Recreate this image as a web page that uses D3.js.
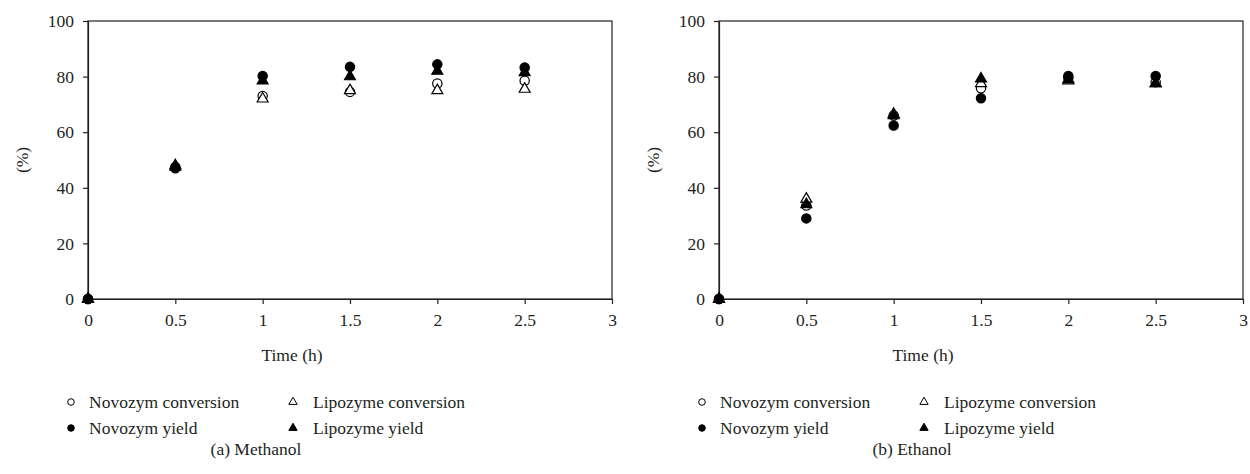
<!DOCTYPE html>
<html>
<head>
<meta charset="utf-8">
<script src="https://cdn.jsdelivr.net/npm/d3@7"></script>
<style>
  body { margin: 0; background: #fff; }
  text { font-family: "Liberation Serif", "DejaVu Serif", serif; fill: #231f20; }
</style>
</head>
<body>
<script>
const width = 1250;
const height = 474;

// time points (h)
const time = [0, 0.5, 1, 1.5, 2, 2.5];

// (a) Methanol
const methNovozymConv  = [0, 47.5, 73, 74.5, 77.5, 78.5];
const methLipozymeConv = [0, 47.5, 72, 75, 75, 75.5];
const methNovozymYield = [0, 47, 80.2, 83.5, 84.4, 83.3];
const methLipozymeYield = [0, 48, 78.5, 80, 82, 81.5];

// (b) Ethanol
const ethNovozymConv  = [0, 33.6, 66, 75.8, 79.5, 78];
const ethLipozymeConv = [0, 36, 66.5, 77.5, 78.5, 77.5];
const ethNovozymYield = [0, 29, 62.4, 72.2, 80.2, 80.2];
const ethLipozymeYield = [0, 34, 66, 79.2, 79, 77.5];

const xTicks = [0, 0.5, 1, 1.5, 2, 2.5, 3];
const yTicks = [0, 20, 40, 60, 80, 100];

const seriesNames = ["Novozym conversion", "Lipozyme conversion", "Novozym yield", "Lipozyme yield"];
const seriesShape = ["circle", "triangle", "circle", "triangle"];
const seriesFilled = [false, false, true, true];

const panels = [
  { x0: 88, capX: 168, caption: "(a)  Methanol", series: [methNovozymConv, methLipozymeConv, methNovozymYield, methLipozymeYield] },
  { x0: 719, capX: 193, caption: "(b)  Ethanol", series: [ethNovozymConv, ethLipozymeConv, ethNovozymYield, ethLipozymeYield] }
];

const svg = d3.select("body").append("svg")
  .attr("width", width)
  .attr("height", height);

const plotW = 524, plotTop = 21, plotBottom = 299;
const fs = "17.5px";

function marker(shape, size) {
  return d3.symbol().type(shape === "circle" ? d3.symbolCircle : d3.symbolTriangle).size(size)();
}

panels.forEach(p => {
  const g = svg.append("g").attr("transform", `translate(${p.x0},0)`);

  const xScale = d3.scaleLinear().domain([0, 3]).range([0, plotW]);
  const yScale = d3.scaleLinear().domain([0, 100]).range([plotBottom, plotTop]);

  // frame
  g.append("rect")
    .attr("x", 0).attr("y", plotTop)
    .attr("width", plotW).attr("height", plotBottom - plotTop)
    .attr("fill", "none").attr("stroke", "#231f20").attr("stroke-width", 1.2);

  const xAxis = g.append("g")
    .attr("transform", `translate(0,${plotBottom})`)
    .call(d3.axisBottom(xScale).tickValues(xTicks).tickSize(5).tickSizeOuter(0).tickFormat(d3.format("")));

  const yAxis = g.append("g")
    .call(d3.axisLeft(yScale).tickValues(yTicks).tickSize(5).tickSizeOuter(0));

  [xAxis, yAxis].forEach(a => {
    a.attr("font-family", null);
    a.select(".domain").attr("stroke", "#231f20").attr("stroke-width", 1.2);
    a.selectAll(".tick line").attr("stroke", "#231f20").attr("stroke-width", 1.2);
    a.selectAll(".tick text")
      .style("font-family", '"Liberation Serif", serif')
      .style("font-size", fs)
      .attr("fill", "#231f20");
  });
  xAxis.selectAll(".tick text").attr("dy", "0.95em").attr("y", 10);
  yAxis.selectAll(".tick text").attr("x", -14);

  g.append("text")
    .attr("transform", `translate(-60,160) rotate(-90)`)
    .attr("text-anchor", "middle")
    .style("font-size", fs)
    .text("(%)");

  g.append("text")
    .attr("x", 204).attr("y", 361)
    .attr("text-anchor", "middle")
    .style("font-size", fs)
    .text("Time (h)");

  // points
  p.series.forEach((vals, si) => {
    g.append("g").selectAll("path")
      .data(time.map((t, i) => ({ t: t, v: vals[i] })))
      .enter().append("path")
      .attr("d", marker(seriesShape[si], seriesShape[si] === "circle" ? 68 : 52))
      .attr("transform", d => `translate(${xScale(d.t)},${yScale(d.v)})`)
      .attr("fill", seriesFilled[si] ? "#000" : "#fff")
      .attr("stroke", "#000")
      .attr("stroke-width", 1.2);
  });

  // legend
  const legendPos = [
    { mx: -17, tx: 1, y: 402 },
    { mx: 205, tx: 225, y: 402 },
    { mx: -17, tx: 1, y: 428 },
    { mx: 205, tx: 225, y: 428 }
  ];
  seriesNames.forEach((name, si) => {
    const lp = legendPos[si];
    g.append("path")
      .attr("d", marker(seriesShape[si], seriesShape[si] === "circle" ? 34 : 30))
      .attr("transform", `translate(${lp.mx},${lp.y})`)
      .attr("fill", seriesFilled[si] ? "#000" : "#fff")
      .attr("stroke", "#000")
      .attr("stroke-width", 1);
    g.append("text")
      .attr("x", lp.tx).attr("y", lp.y + 6)
      .style("font-size", fs)
      .text(name);
  });

  g.append("text")
    .attr("x", p.capX).attr("y", 455)
    .attr("text-anchor", "middle")
    .style("font-size", fs)
    .text(p.caption);
});
</script>
</body>
</html>
